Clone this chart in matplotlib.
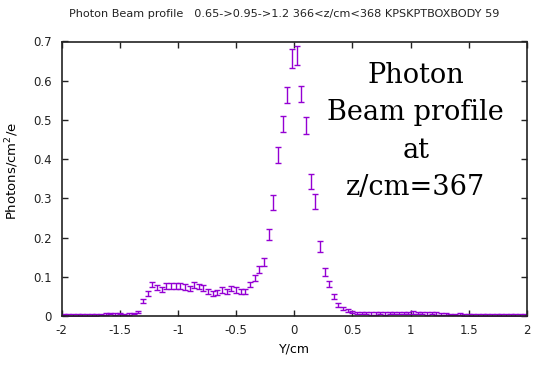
import matplotlib
matplotlib.use('Agg')
import matplotlib.pyplot as plt
from matplotlib.ticker import MultipleLocator, FuncFormatter
import numpy as np

# histogram binning along Y (cm): 100 bins from -2 to 2
bin_edges = np.linspace(-2.0, 2.0, 101)
y_cm = 0.5 * (bin_edges[:-1] + bin_edges[1:])

# photons/cm^2/e per bin
photons = [
    0.004, 0.003, 0.003, 0.002, 0.002, 0.002, 0.003, 0.003, 0.004, 0.005,
    0.006, 0.005, 0.006, 0.004, 0.005, 0.006, 0.010, 0.038, 0.057, 0.080,
    0.073, 0.068, 0.076, 0.077, 0.077, 0.076, 0.074, 0.070, 0.079, 0.075,
    0.071, 0.062, 0.058, 0.060, 0.066, 0.062, 0.070, 0.066, 0.062, 0.063,
    0.080, 0.096, 0.118, 0.138, 0.208, 0.290, 0.411, 0.490, 0.564, 0.657,
    0.664, 0.566, 0.486, 0.343, 0.292, 0.177, 0.112, 0.081, 0.050, 0.028,
    0.020, 0.015, 0.010, 0.008, 0.007, 0.007, 0.006, 0.006, 0.007, 0.006,
    0.008, 0.007, 0.008, 0.007, 0.008, 0.009, 0.007, 0.008, 0.006, 0.007,
    0.006, 0.005, 0.005, 0.004, 0.004, 0.005, 0.003, 0.003, 0.003, 0.002,
    0.003, 0.002, 0.002, 0.002, 0.002, 0.002, 0.002, 0.002, 0.002, 0.002,
]
errors = [
    0.002, 0.002, 0.002, 0.002, 0.002, 0.002, 0.002, 0.002, 0.002, 0.002,
    0.002, 0.002, 0.002, 0.002, 0.002, 0.002, 0.003, 0.006, 0.007, 0.007,
    0.007, 0.007, 0.007, 0.007, 0.007, 0.007, 0.007, 0.007, 0.007, 0.007,
    0.007, 0.007, 0.007, 0.007, 0.007, 0.007, 0.007, 0.007, 0.007, 0.007,
    0.007, 0.008, 0.009, 0.010, 0.015, 0.019, 0.021, 0.021, 0.021, 0.024,
    0.024, 0.021, 0.021, 0.019, 0.019, 0.013, 0.010, 0.008, 0.006, 0.005,
    0.004, 0.004, 0.003, 0.003, 0.003, 0.003, 0.003, 0.003, 0.003, 0.003,
    0.003, 0.003, 0.003, 0.003, 0.003, 0.003, 0.003, 0.003, 0.003, 0.003,
    0.003, 0.002, 0.002, 0.002, 0.002, 0.002, 0.002, 0.002, 0.002, 0.002,
    0.002, 0.002, 0.002, 0.002, 0.002, 0.002, 0.002, 0.002, 0.002, 0.002,
]

title = 'Photon Beam profile   0.65->0.95->1.2 366<z/cm<368 KPSKPTBOXBODY 59'
note = 'Photon\nBeam profile\nat\nz/cm=367'

fig = plt.figure(figsize=(5.35, 3.66), dpi=100)
ax = fig.add_axes([61.5 / 535, 1 - 316 / 366, (527 - 61.5) / 535, (316 - 41.5) / 366])

ax.errorbar(y_cm, photons, yerr=errors, fmt='none', ecolor='#9400d3',
            elinewidth=1.0, capsize=2.2, capthick=1.0)

ax.set_xlim(-2, 2)
ax.set_ylim(0, 0.7)
ax.xaxis.set_major_locator(MultipleLocator(0.5))
ax.yaxis.set_major_locator(MultipleLocator(0.1))
fmt = FuncFormatter(lambda v, p: '%g' % round(v, 2))
ax.xaxis.set_major_formatter(fmt)
ax.yaxis.set_major_formatter(fmt)
ax.tick_params(direction='in', top=True, right=True, length=4.5, width=1.0,
               labelsize=8.5, colors='#222222')
ax.tick_params(axis='x', pad=6)
ax.tick_params(axis='y', pad=7)
for s in ax.spines.values():
    s.set_linewidth(1.2)
    s.set_color('#222222')

ax.set_xlabel('Y/cm', fontsize=9)
ax.set_ylabel('Photons/cm$^2$/e', fontsize=9.5)
ax.yaxis.set_label_coords(-0.087, 0.53)

fig.text(284 / 535, 1 - 14 / 366, title, ha='center', va='center', fontsize=8.1,
         color='#222222')

ax.text(0.761, 0.925, note, transform=ax.transAxes, ha='center', va='top',
        family='DejaVu Serif', fontsize=19.5, linespacing=1.49, color='black')

fig.savefig('out.png', dpi=100)
